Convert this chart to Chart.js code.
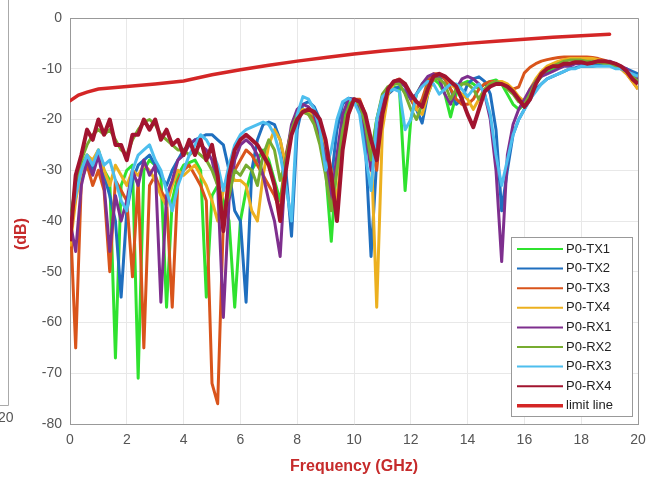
<!DOCTYPE html>
<html>
<head>
<meta charset="utf-8">
<script src="https://cdn.jsdelivr.net/npm/chart.js@4.4.0/dist/chart.umd.min.js"></script>
<style>
  html, body { margin: 0; padding: 0; background: #fff; }
  #wrap { width: 663px; height: 482px; }
</style>
</head>
<body>
<div id="wrap"><canvas id="chart" width="663" height="482"></canvas></div>
<script>
// frequency grid, 0..20 GHz every 0.2 GHz (101 points)
const freq = Array.from({ length: 101 }, (_, i) => +(i * 0.2).toFixed(1));

const xTicks = [0, 2, 4, 6, 8, 10, 12, 14, 16, 18, 20];
const yTicks = [0, -10, -20, -30, -40, -50, -60, -70, -80];

const seriesNames = ['P0-TX1', 'P0-TX2', 'P0-TX3', 'P0-TX4', 'P0-RX1', 'P0-RX2', 'P0-RX3', 'P0-RX4'];
const seriesColors = ['#2fe22f', '#1f6fbf', '#d9541b', '#ecb01f', '#7e2f8e', '#77ac30', '#4dbeee', '#a2142f'];

// values, one row per 2 GHz
const tx1 = [
  -40, -33, -29, -27, -29, -26, -30, -32, -67, -33,
  -30, -29, -71, -30, -28, -29, -31, -57, -36, -31,
  -29, -28.5, -28, -30, -55, -35, -33, -36, -40, -57,
  -40, -34, -30, -28, -26, -28, -32, -36, -28, -22,
  -19, -18, -18.5, -20, -24, -30, -44, -28, -20, -17,
  -16, -17, -21, -27, -20, -15.5, -14, -13.5, -14, -34,
  -20, -15, -13, -12, -12, -13, -15, -19.5, -15, -13,
  -12.5, -13, -14, -13, -12.5, -12.2, -13, -15, -17, -18,
  -17, -15, -13, -11.5, -10.5, -10, -9.5, -9, -9, -8.8,
  -8.8, -8.8, -9, -9, -9, -9.2, -9.5, -10, -10.5, -11,
  -11.5
];
const tx2 = [
  -42, -35, -30, -28, -30, -27, -31, -35, -40, -55,
  -38, -32, -29, -28, -27, -29, -31, -33, -30, -28,
  -26, -25, -24, -23.5, -23, -23, -24, -25, -30, -38,
  -40, -56, -30, -24, -21, -20.5, -21, -24, -30, -43,
  -22, -17, -16.5, -17.5, -20, -26, -32, -22, -17, -15.8,
  -16, -18, -25, -47, -28, -18, -15, -14, -13.5, -14.5,
  -16, -18, -20.7, -15, -12, -11.5, -12, -14, -17, -16,
  -13, -12, -11.6, -12.5, -15, -22, -38, -30, -23, -20,
  -18, -16, -14, -13, -12, -11.5, -11, -10.5, -10, -9.8,
  -9.5, -9.5, -9.5, -9.3, -9.3, -9.3, -9.5, -9.8, -10, -10.5,
  -11
];
const tx3 = [
  -38, -65, -32, -29, -33, -30, -34, -50, -32, -34,
  -36, -51, -32, -65, -33, -31, -34, -36, -57, -32,
  -30, -29, -31, -33, -36, -72, -76, -40, -33, -30,
  -28, -26, -27, -29, -31, -33, -35, -38, -27, -22,
  -19.5, -18.5, -19, -20, -23, -28, -35, -30, -22, -18,
  -16, -16, -19, -25, -30, -18, -14, -12.5, -12, -13,
  -16, -18, -16, -12.5, -11, -11, -12, -14, -16, -17,
  -17, -16, -14, -13, -12.5, -12.5, -13, -13.5, -14, -13.6,
  -10.8, -9.7, -9, -8.5, -8.2, -8, -7.8, -7.7, -7.7, -7.7,
  -7.7, -7.7, -7.8, -8, -8.3, -8.7, -9.2, -10, -11, -12.5,
  -14
];
const tx4 = [
  -45, -36, -30, -27, -28, -26, -30, -33, -29, -31,
  -33, -30, -31, -29, -30, -32, -35, -37, -33, -30,
  -31, -30, -29, -31, -33, -36, -40, -34, -30, -32,
  -32, -33, -38, -40, -31, -25, -22, -24, -29, -23,
  -19, -18, -18.5, -19, -21, -25, -30, -36, -24, -19,
  -16.5, -17, -20, -25, -57, -22, -15, -13, -12.5, -13,
  -15, -18, -19, -15, -12, -11, -11.5, -13, -14, -15,
  -16, -18, -16, -14, -13, -12.5, -12.5, -13, -14, -15.5,
  -16.5, -14, -12, -10.5, -9.5, -9, -8.5, -8.2, -8, -8,
  -8, -8, -8, -8.2, -8.5, -9, -9.5, -10, -11, -12.5,
  -14
];
const rx1 = [
  -40, -46, -33, -28, -31, -27, -33, -46, -35, -40,
  -36, -30, -33, -28, -31, -29, -56, -35, -32, -28,
  -27, -25, -24, -25, -26, -28, -33, -59, -36, -28,
  -25, -24, -25, -27, -31, -36, -40, -47, -28, -21,
  -18, -17, -17.5, -19, -23, -28, -36, -27, -19, -16,
  -16, -17.5, -22, -30, -24, -17, -14, -12.5, -12.5, -13.5,
  -16, -15, -13, -11.5, -11, -12, -15, -17, -14, -12,
  -11.5, -12, -13, -15, -20, -30, -48, -27, -21, -18,
  -16, -14, -12.5, -11.5, -11, -10.5, -10, -9.5, -9.5, -9,
  -9, -9, -9, -8.5, -8.5, -8.5, -9, -9.5, -10, -11,
  -12
];
const rx2 = [
  -42, -32, -28, -25, -23, -22, -23, -22, -24, -26,
  -27, -24, -22, -20.5, -20, -21, -23, -24, -25, -26,
  -26, -27, -26, -27, -28, -30, -33, -38, -35, -30,
  -31, -29, -30, -33, -27, -24, -26, -32, -28, -22,
  -19, -18.5, -19, -21, -25, -31, -38, -30, -22, -18,
  -16.5, -17, -21, -28, -20, -15, -13.5, -13, -13, -15,
  -18, -20, -17, -13.5, -12, -12, -13, -16, -14, -13,
  -13, -14, -16, -14, -13, -12.5, -13, -14, -15, -16.5,
  -17, -15, -12.5, -11, -10, -9.5, -9, -8.5, -8.3, -8.3,
  -8.3, -8.5, -8.5, -8.7, -9, -9.2, -9.5, -10, -10.5, -11.5,
  -12.5
];
const rx3 = [
  -40, -35, -30, -27, -29, -26, -29, -28, -32, -36,
  -38, -30, -27, -26, -25, -28, -30, -34, -38, -33,
  -30, -27, -25, -23, -24, -26, -29, -34, -29, -25,
  -23, -22, -21.5, -21, -20.5, -21, -23, -27, -33, -40,
  -19, -15.5, -16, -18, -22, -30, -26, -20, -16.5, -15.8,
  -16.5, -19, -27, -34, -20, -15.5, -14.5, -14, -14.5, -22,
  -20, -15, -13.5, -12.5, -13, -15, -14, -13, -13, -14,
  -15.5, -14, -13, -15, -19, -27, -33, -28, -23, -20,
  -18, -16, -14.5, -13, -12, -11.5, -11, -10.5, -10, -10,
  -9.5, -9.5, -9.5, -9.5, -9.5, -9.5, -10, -10, -10.5, -11,
  -11.5
];
const rx4 = [
  -44, -31, -27, -22, -24, -20, -23, -20, -25, -25,
  -28, -23, -23, -20, -22, -20, -24, -22, -25, -24,
  -27, -24, -27, -24, -28, -25, -31, -42, -31, -26,
  -24, -23, -24, -25, -27, -29, -33, -40, -30, -23,
  -20, -18.5, -18, -18.5, -20, -24, -31, -40, -26, -19,
  -16, -16.5, -19, -24, -28, -19, -14, -12.5, -12.2, -13,
  -15, -16.5, -17.5, -14, -11.5, -11, -11.5, -12.5, -13.5, -16,
  -19, -21.5, -18, -14.5, -13.5, -13, -13, -13.5, -14.5, -16,
  -17.5, -16, -13, -11, -10, -9.5, -9.5, -9, -9, -8.7,
  -8.7, -9, -8.8, -8.5, -8.5, -8.7, -9, -9.5, -10.5, -12,
  -13
];
const seriesValues = [tx1, tx2, tx3, tx4, rx1, rx2, rx3, rx4];
const seriesWidths = [3, 3, 3, 3, 3, 3, 3, 4];

// limit line (stops at 19 GHz)
const limitFreq = [0, 0.3, 0.6, 1, 2, 3, 4, 5, 6, 7, 8, 9, 10, 11, 12, 13, 14, 15, 16, 17, 18, 19];
const limitDb = [-16.3, -15.2, -14.6, -14, -13.5, -13, -12.4, -11.2, -10.2, -9.3, -8.5, -7.8, -7.1, -6.5, -6, -5.5, -5, -4.6, -4.2, -3.8, -3.5, -3.2];

const toPoints = (xs, ys) => xs.map((x, i) => ({ x, y: ys[i] }));

const datasets = seriesNames.map((name, i) => ({
    label: name,
    data: toPoints(freq, seriesValues[i]),
    borderColor: seriesColors[i],
    borderWidth: seriesWidths[i],
    borderJoinStyle: 'round',
    pointRadius: 0,
    tension: 0,
    order: seriesNames.length - i
}));
datasets.push({
    label: 'limit line',
    data: toPoints(limitFreq, limitDb),
    borderColor: '#d42626',
    borderWidth: 3.5,
    borderCapStyle: 'round',
    pointRadius: 0,
    tension: 0,
    order: 0
});

// frame, legend box and the cut-off neighbour plot on the left
const decor = {
    id: 'decor',
    afterDraw(chart) {
        const { ctx, chartArea: a } = chart;
        ctx.save();
        ctx.strokeStyle = '#999';
        ctx.lineWidth = 1;
        ctx.beginPath();
        ctx.moveTo(a.left, a.top + 0.5);
        ctx.lineTo(a.right + 0.5, a.top + 0.5);
        ctx.lineTo(a.right + 0.5, a.bottom);
        ctx.stroke();

        // left fragment
        ctx.strokeStyle = '#aaa';
        ctx.beginPath();
        ctx.moveTo(8.5, 0);
        ctx.lineTo(8.5, 405.5);
        ctx.lineTo(0, 405.5);
        ctx.stroke();
        ctx.fillStyle = '#555';
        ctx.font = '14px "Liberation Sans", Arial, sans-serif';
        ctx.textAlign = 'left';
        ctx.textBaseline = 'middle';
        ctx.fillText('20', -2, 418);

        // y title
        ctx.save();
        ctx.translate(22, 234);
        ctx.rotate(-Math.PI / 2);
        ctx.fillStyle = '#c62b2b';
        ctx.font = 'bold 16px "Liberation Sans", Arial, sans-serif';
        ctx.textAlign = 'center';
        ctx.fillText('(dB)', 0, 0);
        ctx.restore();

        // legend
        const lx = 511, ly = 237, lw = 121, lh = 179;
        ctx.fillStyle = '#fff';
        ctx.fillRect(lx, ly, lw, lh);
        ctx.strokeStyle = '#999';
        ctx.lineWidth = 1;
        ctx.strokeRect(lx + 0.5, ly + 0.5, lw, lh);
        ctx.font = '13px "Liberation Sans", Arial, sans-serif';
        ctx.textBaseline = 'middle';
        chart.data.datasets.forEach((ds, i) => {
            const y = ly + 12 + i * 19.6;
            ctx.strokeStyle = ds.borderColor;
            ctx.lineWidth = i < seriesNames.length ? 2 : 3.5;
            ctx.beginPath();
            ctx.moveTo(lx + 6, y);
            ctx.lineTo(lx + 52, y);
            ctx.stroke();
            ctx.fillStyle = '#222';
            ctx.fillText(ds.label, lx + 55, y);
        });
        ctx.restore();
    }
};

new Chart(document.getElementById('chart'), {
    type: 'line',
    data: { datasets },
    options: {
        responsive: false,
        animation: false,
        devicePixelRatio: 1,
        layout: { padding: { top: 18, right: 25, left: 0, bottom: 0 } },
        plugins: { legend: { display: false }, tooltip: { enabled: false } },
        scales: {
            x: {
                type: 'linear',
                min: 0,
                max: 20,
                afterBuildTicks: (scale) => { scale.ticks = xTicks.map(v => ({ value: v })); },
                afterFit: (scale) => { scale.height = 58; },
                grid: { color: '#e8e8e8', drawTicks: false },
                border: { color: '#999' },
                ticks: { color: '#555', padding: 8, font: { size: 14, family: '"Liberation Sans", Arial, sans-serif' } },
                title: {
                    display: true,
                    text: 'Frequency (GHz)',
                    color: '#c62b2b',
                    font: { size: 16, weight: 'bold', family: '"Liberation Sans", Arial, sans-serif' },
                    padding: { top: 2, bottom: 6 }
                }
            },
            y: {
                min: -80,
                max: 0,
                afterBuildTicks: (scale) => { scale.ticks = yTicks.map(v => ({ value: v })); },
                afterFit: (scale) => { scale.width = 70; },
                grid: { color: '#e8e8e8', drawTicks: false },
                border: { color: '#999' },
                ticks: { color: '#555', padding: 8, font: { size: 14, family: '"Liberation Sans", Arial, sans-serif' } }
            }
        }
    },
    plugins: [decor]
});
</script>
</body>
</html>
